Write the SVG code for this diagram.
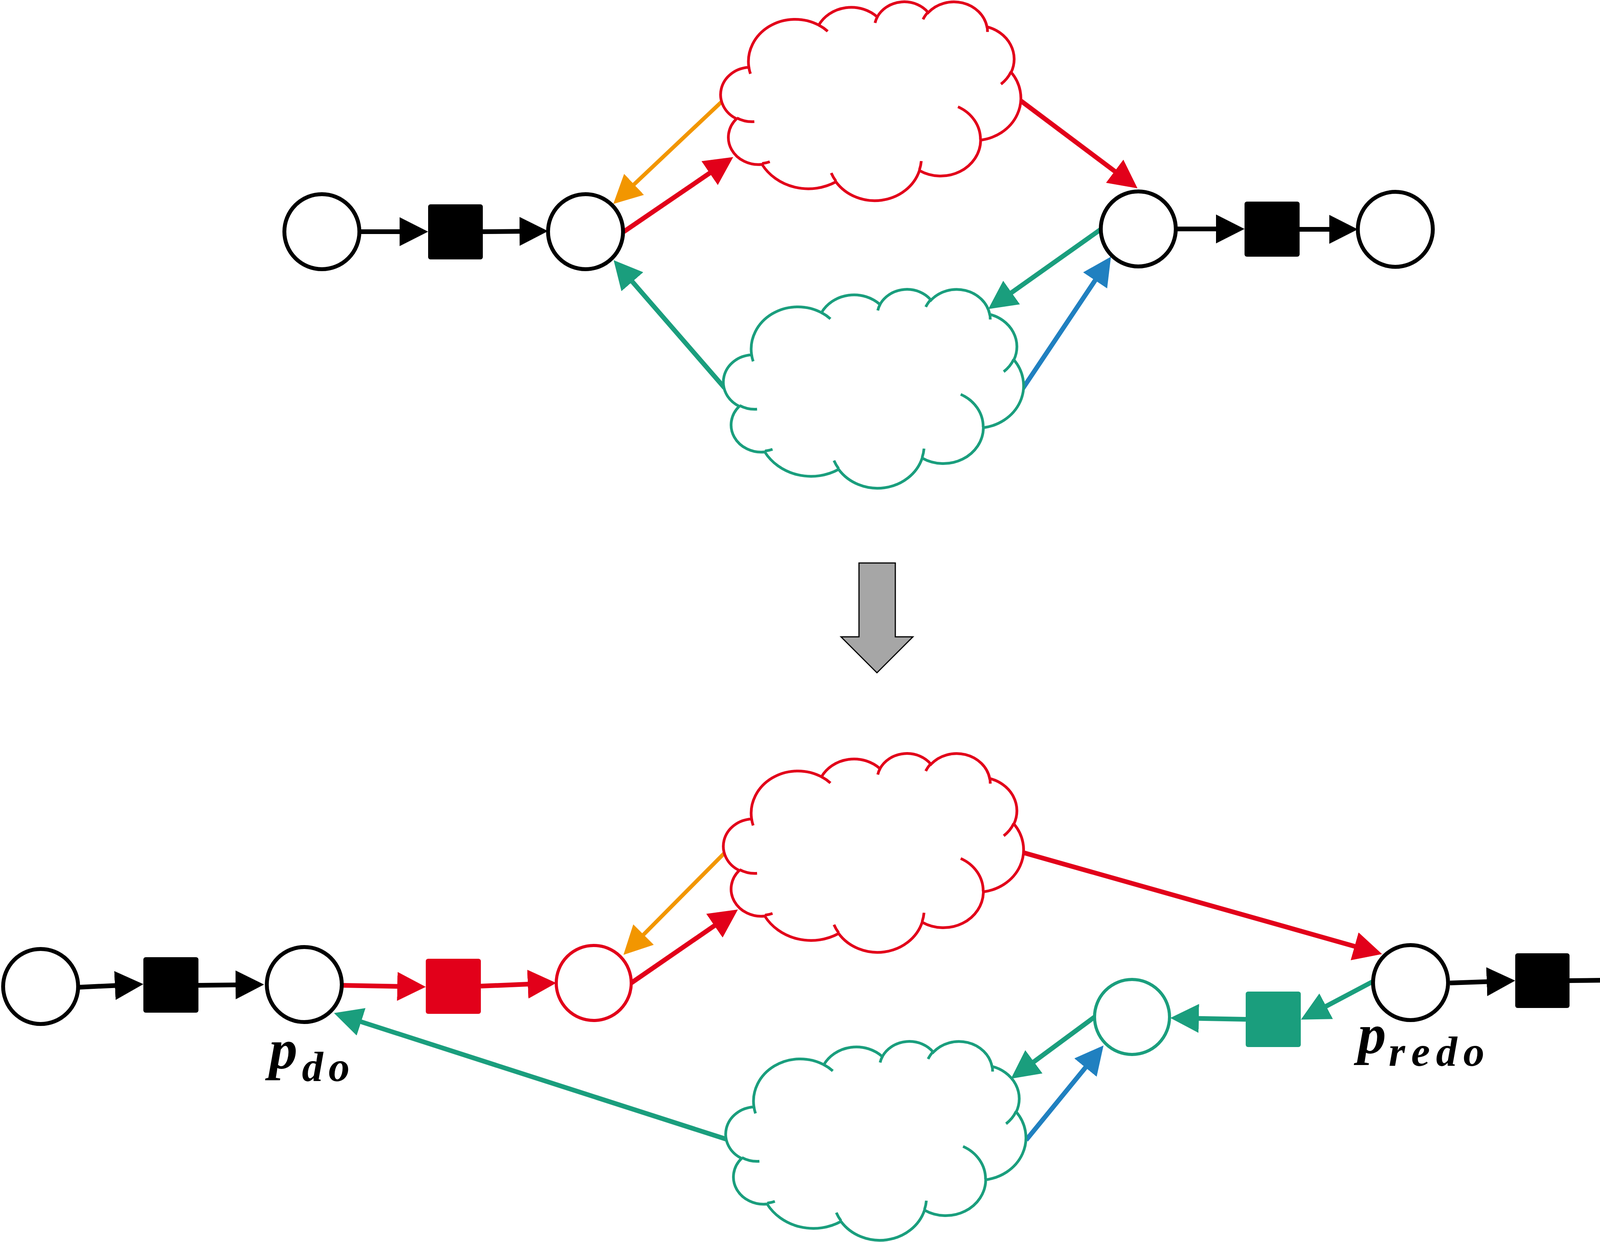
<svg xmlns="http://www.w3.org/2000/svg" width="4382" height="3179" viewBox="0 0 4382 3179">
<defs>
<style>
.place{fill:#fff;stroke:#000;stroke-width:10}
.place-red{fill:#fff;stroke:#E2001A;stroke-width:8}
.place-green{fill:#fff;stroke:#1A9E7D;stroke-width:8}
.trans{fill:#000}
.trans-red{fill:#E2001A}
.trans-green{fill:#1A9E7D}
.arc{fill:none;stroke-width:12;stroke-linecap:butt}
.k{stroke:#000;marker-end:url(#mk)}
.r{stroke:#E2001A;marker-end:url(#mr)}
.g{stroke:#1A9E7D;marker-end:url(#mg)}
.b{stroke:#2080C0;marker-end:url(#mb)}
.o{stroke:#F29600;stroke-width:10;marker-end:url(#mo)}
.cloud-body{fill:#fff;vector-effect:non-scaling-stroke}
.cloud-inner{fill:none;vector-effect:non-scaling-stroke}
.label{font-family:"Liberation Serif","Times New Roman",serif;font-weight:bold;font-style:italic;fill:#000}
.big-arrow{fill:#A6A6A6;stroke:#000;stroke-width:3}
</style>
<marker id="mk" viewBox="-13 -37 73 74" refX="0" refY="0" markerWidth="73" markerHeight="74" markerUnits="userSpaceOnUse" orient="auto"><path d="M-13,-37 L60,0 L-13,37 Z" fill="#000"/></marker>
<marker id="mr" viewBox="-13 -37 73 74" refX="0" refY="0" markerWidth="73" markerHeight="74" markerUnits="userSpaceOnUse" orient="auto"><path d="M-13,-37 L60,0 L-13,37 Z" fill="#E2001A"/></marker>
<marker id="mg" viewBox="-13 -37 73 74" refX="0" refY="0" markerWidth="73" markerHeight="74" markerUnits="userSpaceOnUse" orient="auto"><path d="M-13,-37 L60,0 L-13,37 Z" fill="#1A9E7D"/></marker>
<marker id="mb" viewBox="-13 -37 73 74" refX="0" refY="0" markerWidth="73" markerHeight="74" markerUnits="userSpaceOnUse" orient="auto"><path d="M-13,-37 L60,0 L-13,37 Z" fill="#2080C0"/></marker>
<marker id="mo" viewBox="-13 -37 73 74" refX="0" refY="0" markerWidth="73" markerHeight="74" markerUnits="userSpaceOnUse" orient="auto"><path d="M-13,-37 L60,0 L-13,37 Z" fill="#F29600"/></marker>
<g id="cloudShape">
<path class="cloud-body" d="M3900,14370 A6753,9190 0 0 1 14005,5202 A5333,7267 0 0 1 22457,3430 A4365,5945 0 0 1 29835,2480 A4857,6595 0 0 1 38320,5575 A5333,7273 0 0 1 41821,15459 A6775,9220 0 0 1 37406,30200 A5785,7867 0 0 1 28557,36810 A6752,9215 0 0 1 16482,39263 A7720,10543 0 0 1 5805,35469 A4360,5918 0 0 1 2114,25548 A4345,5945 0 0 1 3900,14370 Z"/>
<path class="cloud-inner" d="M4693,26177 A4345,5945 0 0 1 2159,25380 M6928,34899 A4360,5918 0 0 1 5819,35281 M16478,39090 A6752,9215 0 0 1 15810,37349 M28827,34751 A6752,9215 0 0 1 28561,36659 M34129,22954 A5785,7867 0 0 1 37380,30090 M41798,15354 A5333,7273 0 0 1 40349,18031 M38324,5426 A4857,6595 0 0 1 38400,6690 M29078,3952 A4857,6595 0 0 1 29820,2339 M22141,4720 A4365,5945 0 0 1 22500,3330 M14000,5192 A6753,9190 0 0 1 15299,6539 M4127,15789 A6753,9190 0 0 1 3900,14372"/>
</g>
</defs>
<rect width="4382" height="3179" fill="#fff"/>

<g id="connectors">
<line class="arc k" x1="920" y1="593" x2="1036" y2="593"/>
<line class="arc k" x1="1236" y1="593" x2="1343" y2="592"/>
<line class="arc r" x1="1597" y1="593" x2="1827.4" y2="435.8"/>
<line class="arc o" x1="1851" y1="257" x2="1613.7" y2="480.8"/>
<line class="arc r" x1="2612" y1="257" x2="2864" y2="446"/>
<line class="arc k" x1="3010" y1="586" x2="3126" y2="586"/>
<line class="arc k" x1="3327" y1="587" x2="3416" y2="587"/>
<line class="arc g" x1="2818" y1="587" x2="2579" y2="756.3"/>
<line class="arc b" x1="2618" y1="995" x2="2810.7" y2="706.9"/>
<line class="arc g" x1="1855" y1="993" x2="1610.3" y2="711.3"/>
<line class="arc k" x1="201" y1="2527" x2="307.1" y2="2521.9"/>
<line class="arc k" x1="508" y1="2522" x2="616" y2="2520.7"/>
<line class="arc r" x1="874" y1="2522" x2="1030" y2="2524.9"/>
<line class="arc r" x1="1231" y1="2524" x2="1364.1" y2="2518.5"/>
<line class="arc r" x1="1616" y1="2516" x2="1839.6" y2="2362"/>
<line class="arc o" x1="1857" y1="2181" x2="1638.3" y2="2401.4"/>
<line class="arc r" x1="2615" y1="2181" x2="3480.3" y2="2425.7"/>
<line class="arc k" x1="3712" y1="2516" x2="3819" y2="2512.2"/>
<line class="arc k" x1="4017" y1="2510" x2="4120" y2="2508.7"/>
<line class="arc g" x1="3515" y1="2512" x2="3383.4" y2="2581.6"/>
<line class="arc g" x1="3189" y1="2609" x2="3056" y2="2606.6"/>
<line class="arc g" x1="2802" y1="2603" x2="2636.3" y2="2725.4"/>
<line class="arc b" x1="2627" y1="2918" x2="2787" y2="2722.4"/>
<line class="arc g" x1="1866" y1="2918" x2="912.1" y2="2611.4"/>
</g>

<g id="cloud1"><use href="#cloudShape" transform="translate(1848,3) scale(0.017709,0.011778)" stroke="#E2001A" stroke-width="7"/></g>
<g id="cloud2"><use href="#cloudShape" transform="translate(1855,739) scale(0.017709,0.011778)" stroke="#1A9E7D" stroke-width="7"/></g>
<g id="cloud3"><use href="#cloudShape" transform="translate(1855,1927) scale(0.017709,0.011778)" stroke="#E2001A" stroke-width="7"/></g>
<g id="cloud4"><use href="#cloudShape" transform="translate(1861,2664) scale(0.017709,0.011778)" stroke="#1A9E7D" stroke-width="7"/></g>

<g id="placeA"><circle class="place" cx="824" cy="593" r="96"/></g>
<g id="transT1"><rect class="trans" x="1096" y="523" width="140" height="141" rx="6"/></g>
<g id="placeB"><circle class="place" cx="1499" cy="593" r="96"/></g>
<g id="placeC"><circle class="place" cx="2914" cy="586" r="96"/></g>
<g id="transT2"><rect class="trans" x="3186" y="516" width="141" height="141" rx="6"/></g>
<g id="placeD"><circle class="place" cx="3572" cy="587" r="96"/></g>

<g id="bigArrow"><polygon class="big-arrow" points="2199,1441 2292,1441 2292,1630 2337,1630 2245,1722 2153,1630 2199,1630"/></g>

<g id="placeE"><circle class="place" cx="104" cy="2525" r="96"/></g>
<g id="transT3"><rect class="trans" x="367" y="2450" width="141" height="142" rx="6"/></g>
<g id="placeF"><circle class="place" cx="779" cy="2520" r="96"/></g>
<g id="transT4"><rect class="trans-red" x="1090" y="2454" width="141" height="141" rx="6"/></g>
<g id="placeG"><circle class="place-red" cx="1520" cy="2516" r="96"/></g>
<g id="placeH"><circle class="place" cx="3611" cy="2515" r="96"/></g>
<g id="transT5"><rect class="trans" x="3879" y="2440" width="139" height="140" rx="6"/></g>
<g id="placeI"><circle class="place" cx="4276" cy="2507" r="96"/></g>
<g id="transT6"><rect class="trans-green" x="3189" y="2538" width="141" height="142" rx="6"/></g>
<g id="placeJ"><circle class="place-green" cx="2898" cy="2603" r="96"/></g>

<g id="labelPdo">
<text class="label" x="689" y="2734" font-size="145">p</text>
<text class="label" x="773" y="2767" font-size="108" textLength="122" lengthAdjust="spacing">do</text>
</g>
<g id="labelPredo">
<text class="label" x="3476" y="2695" font-size="145">p</text>
<text class="label" x="3555" y="2728" font-size="108" textLength="245" lengthAdjust="spacing">redo</text>
</g>
</svg>
